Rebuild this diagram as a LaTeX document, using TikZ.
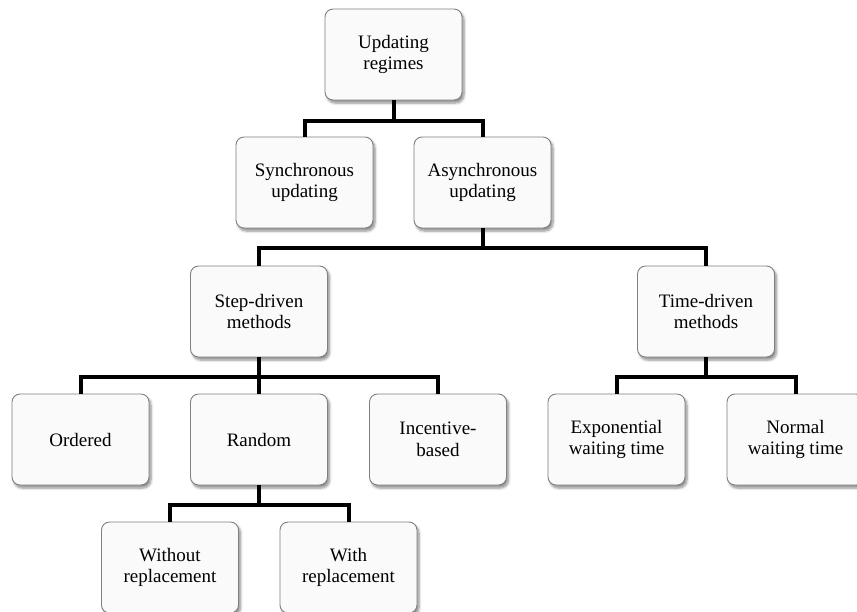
\documentclass[tikz,border=0pt]{standalone}
\usepackage{fontspec}
\setmainfont{Liberation Serif}
\usetikzlibrary{shadows.blur}
\begin{document}
\begin{tikzpicture}[x=1pt,y=-1pt,
  box/.style={draw=black!50, line width=0.9pt, fill=white!98!black, rounded corners=8pt,
    minimum width=137pt, minimum height=91pt, align=center, inner sep=2pt,
    font=\fontsize{19}{21.5}\selectfont,
    blur shadow={shadow xshift=2pt, shadow yshift=-3pt, shadow blur radius=2.5pt,
      shadow blur steps=6, shadow opacity=45}},
  conn/.style={line width=4pt, draw=black, line join=miter}]
\useasboundingbox (0,0) rectangle (857,611);

% nodes
\node[box] (top)   at (393.5,54.5)  {Updating\\regimes};
\node[box] (sync)  at (304.5,182.5) {Synchronous\\updating};
\node[box] (async) at (482.5,182.5) {Asynchronous\\updating};
\node[box] (step)  at (259,311.5)   {Step-driven\\methods};
\node[box] (time)  at (706,311.5)   {Time-driven\\methods};
\node[box] (ord)   at (80.5,439.5)  {Ordered};
\node[box] (rand)  at (259,439.5)   {Random};
\node[box] (inc)   at (438,439.5)   {Incentive-\\based};
\node[box] (expw)  at (616.5,439.5) {Exponential\\waiting time};
\node[box] (norm)  at (795.5,439.5) {Normal\\waiting time};
\node[box] (wout)  at (170,567.5)   {Without\\replacement};
\node[box] (with)  at (348.5,567.5) {With\\replacement};

% bus levels
\coordinate (b1) at (0,121);
\coordinate (b2) at (0,248);
\coordinate (b3) at (0,377);
\coordinate (b4) at (0,505);

% connectors
\draw[conn] (top.south) -- (top.south |- b1);
\draw[conn] (sync.north) -- (sync.north |- b1) -- (async.north |- b1) -- (async.north);

\draw[conn] (async.south) -- (async.south |- b2);
\draw[conn] (step.north) -- (step.north |- b2) -- (time.north |- b2) -- (time.north);

\draw[conn] (step.south) -- (step.south |- b3);
\draw[conn] (ord.north) -- (ord.north |- b3) -- (inc.north |- b3) -- (inc.north);
\draw[conn] (rand.north) -- (rand.north |- b3);

\draw[conn] (time.south) -- (time.south |- b3);
\draw[conn] (expw.north) -- (expw.north |- b3) -- (norm.north |- b3) -- (norm.north);

\draw[conn] (rand.south) -- (rand.south |- b4);
\draw[conn] (wout.north) -- (wout.north |- b4) -- (with.north |- b4) -- (with.north);
\end{tikzpicture}
\end{document}
